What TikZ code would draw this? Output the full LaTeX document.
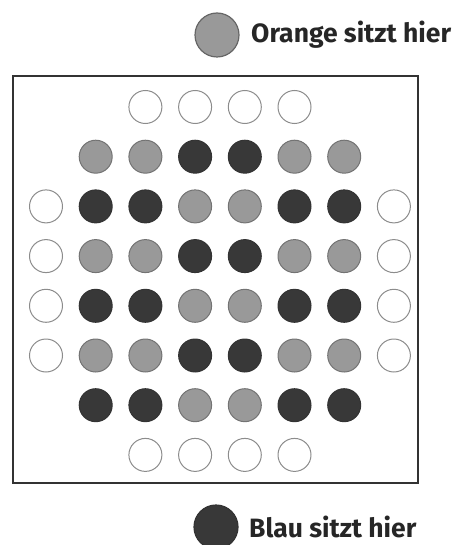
\documentclass[tikz,border=0pt]{standalone}
\usepackage{fontspec}
\setmainfont{Fira Sans}
\begin{document}
\begin{tikzpicture}[x=1pt,y=-1pt,
  hole/.style={circle,minimum size=33pt,inner sep=0pt,line width=1pt},
  holee/.style={hole,draw=black!45,fill=white},
  holeo/.style={hole,draw=black!55,fill=black!40},
  holeb/.style={hole,draw=black!80,fill=black!78},
  legendhole/.style={circle,minimum size=44pt,inner sep=0pt,line width=1.2pt},
  legendtext/.style={anchor=west,inner sep=0pt,font=\fontsize{26.5}{30}\selectfont\bfseries,text=black!85}]
\useasboundingbox (0,0) rectangle (462,545);
\node[draw=black!80,line width=2pt,minimum width=405pt,minimum height=407pt,inner sep=0pt] (frame) at (215.5,279.5) {};
% legend
\node[legendhole,draw=black!60,fill=black!40] (lo) at (217,35) {};
\node[legendtext] (lot) at (251,35) {Orange sitzt hier};
\node[legendhole,draw=black!80,fill=black!78] (lb) at (216,527) {};
\node[legendtext] (lbt) at (249,527) {Blau sitzt hier};
% board
\def\dx{49.7}
\foreach \r/\row in {
 1/{3/e,4/e,5/e,6/e},
 2/{2/o,3/o,4/b,5/b,6/o,7/o},
 3/{1/e,2/b,3/b,4/o,5/o,6/b,7/b,8/e},
 4/{1/e,2/o,3/o,4/b,5/b,6/o,7/o,8/e},
 5/{1/e,2/b,3/b,4/o,5/o,6/b,7/b,8/e},
 6/{1/e,2/o,3/o,4/b,5/b,6/o,7/o,8/e},
 7/{2/b,3/b,4/o,5/o,6/b,7/b},
 8/{3/e,4/e,5/e,6/e}}{
  \foreach \c/\k in \row {
    \node[hole\k] (h\r\c) at ({46+(\c-1)*\dx},{107+(\r-1)*\dx}) {};
  }
}
\end{tikzpicture}
\end{document}
